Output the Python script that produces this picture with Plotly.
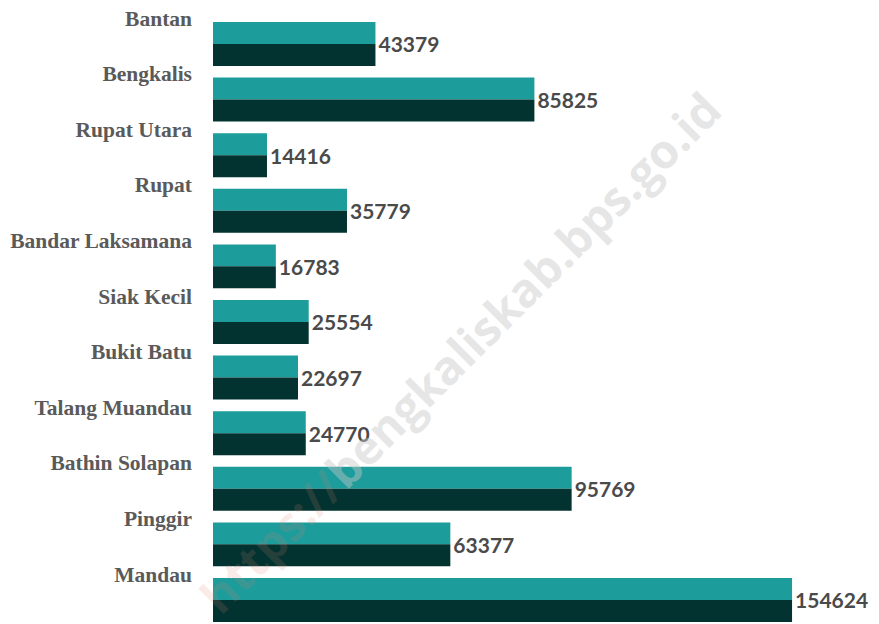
import plotly.graph_objects as go

kecamatan = ["Bantan", "Bengkalis", "Rupat Utara", "Rupat", "Bandar Laksamana",
             "Siak Kecil", "Bukit Batu", "Talang Muandau", "Bathin Solapan",
             "Pinggir", "Mandau"]
nilai = [43379, 85825, 14416, 35779, 16783, 25554, 22697, 24770, 95769, 63377, 154624]

teal = "#1c9c9a"
gelap = "#033331"
half = 0.395

fig = go.Figure()

# bagian atas batang (teal)
fig.add_trace(go.Bar(
    x=nilai, y=kecamatan, orientation="h",
    width=half, offset=-half,
    marker=dict(color=teal, line=dict(width=0)),
    hoverinfo="skip", showlegend=False,
))

# bagian bawah batang (gelap)
fig.add_trace(go.Bar(
    x=nilai, y=kecamatan, orientation="h",
    width=half, offset=0,
    marker=dict(color=gelap, line=dict(width=0)),
    showlegend=False,
))

# batang transparan penuh, hanya untuk label nilai di tengah
fig.add_trace(go.Bar(
    x=nilai, y=kecamatan, orientation="h",
    width=2 * half, offset=-half,
    marker=dict(color="rgba(0,0,0,0)", line=dict(width=0)),
    text=[str(v) for v in nilai], textposition="outside",
    textfont=dict(family="Lato", size=21, color="#4a4a4a", weight="bold"),
    cliponaxis=False, hoverinfo="skip", showlegend=False,
))

# watermark
fig.add_annotation(
    x=0.5, y=0.5, xref="paper", yref="paper",
    text="<span style='color:rgba(225,130,110,0.35)'>https://</span>bengkaliskab.bps.go.id",
    textangle=-45, showarrow=False,
    font=dict(family="Open Sans", size=47, color="rgba(200,200,200,0.45)", weight="bold"),
    xshift=-90, yshift=-32,
)

fig.update_layout(
    width=879, height=624,
    barmode="overlay",
    plot_bgcolor="white", paper_bgcolor="white",
    margin=dict(l=205, r=0, t=0, b=0, autoexpand=False),
    xaxis=dict(range=[0, 179980], visible=False, fixedrange=True, automargin=False),
    yaxis=dict(
        type="category", range=[10.576, -0.647], automargin=False,
        showgrid=False, zeroline=False, showline=False, ticks="",
        ticklabelshift=26, ticklabelstandoff=20,
        tickfont=dict(family="Liberation Serif", size=21.5, color="#5a5a5a", weight="bold"),
    ),
)

fig.write_html("out.html")
